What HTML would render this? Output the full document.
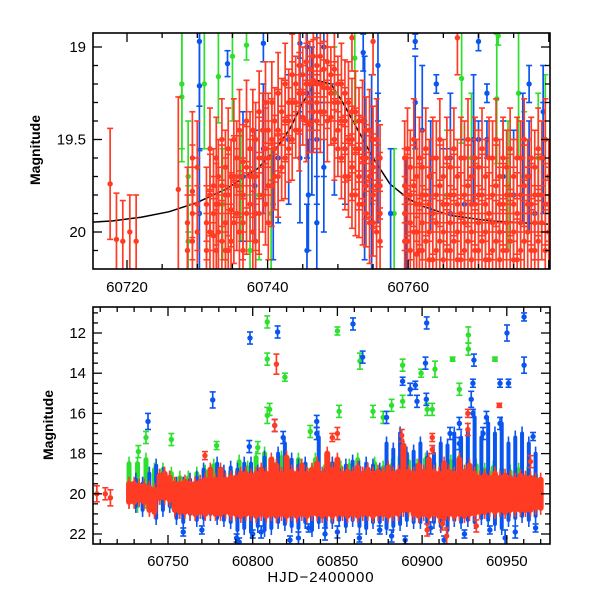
<!DOCTYPE html>
<html><head><meta charset="utf-8">
<style>
html,body{margin:0;padding:0;background:#fff;}
svg{display:block;font-family:"Liberation Sans",sans-serif;}
</style></head>
<body>
<svg id="chart" width="600" height="600" viewBox="0 0 600 600">
<defs>
<clipPath id="clipTop"><rect x="93" y="33" width="457" height="236"/></clipPath>
<clipPath id="clipBot"><rect x="93" y="307" width="457" height="237"/></clipPath>
</defs>
<g id="topMarks" clip-path="url(#clipTop)"></g>
<g id="botMarks" clip-path="url(#clipBot)"></g>
<g id="axes"></g>
<text x="40" y="150" transform="rotate(-90 40 150)" text-anchor="middle" font-size="14" font-weight="bold">Magnitude</text>
<text x="53" y="425" transform="rotate(-90 53 425)" text-anchor="middle" font-size="14" font-weight="bold">Magnitude</text>
<text x="321" y="582" text-anchor="middle" font-size="15" letter-spacing="1">HJD−2400000</text>
</svg>
<script>
// ---------- TOP PANEL DATA ----------
const tRedX=[60717.6,60718.5,60719.4,60720.4,60721.3,60727.3,60728.6,60729.3,60730.0,60731.3,60732.3,60733.0,60734.0,60734.8,60735.6,60736.5,60737.5,60738.3,60739.3,60740.1,60741.0,60742.0,60743.0,60744.0,60745.0,60746.0,60747.0,60748.0,60749.0,60750.0,60751.0,60752.0,60753.0,60754.0,60755.0,60756.0,60759.5,60760.3,60761.2,60762.0,60763.0,60764.0,60765.0,60766.0,60767.0,60768.0,60769.0,60770.0,60771.0,60772.0,60773.0,60774.0,60775.0,60776.0,60777.0,60778.0,60779.0,60780.0];
const tRedMags=[[19.74],[20.04],[20.05],[20.0],[20.05],[19.77],[19.95,20.1],[19.6,19.78,19.9,20.05],[19.65,19.85,20.0],[19.85,19.95,20.1],[19.75,19.9,20.02],[19.7,19.85,20.0],[19.65,19.8,19.95,20.1],[19.7,19.88,20.05],[19.6,19.75,19.9],[19.62,19.8,19.95,20.1],[19.55,19.7,19.85],[19.5,19.7,19.9,20.05],[19.45,19.6,19.8],[19.45,19.6,19.75,19.95],[19.4,19.55,19.7],[19.35,19.5,19.65],[19.3,19.4,19.55],[19.2,19.3,19.45],[19.15,19.25,19.38],[19.12,19.2,19.3,19.42],[19.1,19.2,19.3,19.4],[19.12,19.22,19.35],[19.15,19.25,19.38],[19.2,19.3,19.45,19.55],[19.25,19.4,19.55,19.7],[19.35,19.5,19.65,19.8,18.95],[19.4,19.55,19.7,19.85],[19.45,19.6,19.75,19.9],[19.5,19.65,19.8,19.95,18.97],[19.6,19.75,19.9,20.05],[19.6,19.75,19.9,20.05],[19.65,19.8,19.95,20.1],[19.7,19.85,20.0,20.12],[19.65,19.8,19.95,20.1],[19.7,19.85,20.0,20.15],[19.6,19.8,19.95,20.1],[19.7,19.85,20.0,20.15],[19.65,19.8,19.95,20.1],[19.7,19.85,20.0,20.15,18.95],[19.6,19.8,19.95,20.1],[19.7,19.85,20.0,20.15],[19.65,19.8,19.95,20.1],[19.7,19.85,20.0,20.15],[19.6,19.8,19.95,20.1],[19.7,19.85,20.0,20.15],[19.65,19.8,19.95,20.1],[19.7,19.85,20.0,20.15],[19.6,19.8,19.95,20.1],[19.7,19.85,20.0],[19.65,19.8,19.95,20.1],[19.6,19.8,19.95],[19.7,19.85,20.0]];
const tRedErr=[0.3,0.25,0.22,0.2,0.25,0.5,0.3,0.25,0.25,0.2,0.2,0.2,0.2,0.2,0.2,0.2,0.2,0.2,0.2,0.2,0.18,0.18,0.18,0.15,0.15,0.15,0.15,0.15,0.15,0.15,0.18,0.18,0.18,0.18,0.18,0.18,0.2,0.2,0.2,0.2,0.2,0.2,0.2,0.2,0.2,0.2,0.2,0.2,0.2,0.2,0.2,0.2,0.2,0.2,0.2,0.2,0.2,0.2];
const tRed2X=[60731.8,60732.7,60733.5,60734.4,60735.2,60736.0,60737.0,60737.9,60738.8,60739.7,60740.6,60741.5,60742.5,60743.5,60744.5,60745.5,60746.5,60747.5,60748.5,60749.5,60750.5,60751.5,60752.5,60753.5,60754.5,60755.5,60759.9,60760.8,60761.6,60762.5,60763.5,60764.5,60765.5,60766.5,60767.5,60768.5,60769.5,60770.5,60771.5,60772.5,60773.5,60774.5,60775.5,60776.5,60777.5,60778.5,60779.5,60780.5,60781.3];
const tRed2Mags=[[19.55,19.8,20.0],[19.6,19.85,20.1],[19.5,19.75,20.05],[19.55,19.8,20.1],[19.5,19.7,19.95],[19.45,19.7,20.0],[19.4,19.65,19.9],[19.45,19.7,20.0],[19.35,19.6,19.9],[19.3,19.55,19.85],[19.3,19.5,19.75],[19.25,19.45,19.7],[19.2,19.4,19.6],[19.15,19.3,19.5],[19.1,19.25,19.45],[19.08,19.2,19.4],[19.05,19.18,19.35],[19.05,19.2,19.35],[19.08,19.22,19.4],[19.12,19.3,19.5],[19.2,19.4,19.6],[19.3,19.5,19.7],[19.35,19.55,19.8],[19.4,19.6,19.85],[19.45,19.7,19.95],[19.5,19.75,20.0],[19.55,19.8,20.05],[19.5,19.75,20.0],[19.6,19.85,20.1],[19.55,19.8,20.05],[19.6,19.9,20.15],[19.5,19.75,20.05],[19.6,19.85,20.1],[19.55,19.8,20.05],[19.6,19.9,20.15],[19.5,19.75,20.05],[19.6,19.85,20.1],[19.55,19.8,20.05],[19.6,19.9,20.15],[19.5,19.75,20.05],[19.6,19.85,20.1],[19.55,19.8,20.05],[19.6,19.9,20.15],[19.5,19.75,20.05],[19.6,19.85,20.1],[19.55,19.8,20.05],[19.5,19.85,20.1],[19.55,19.8,20.05],[19.6,19.85,20.1]];
const tRed2Err=0.22;
const tBlueX=[60730.3,60730.3,60730.3,60734.3,60736.5,60738.2,60739.4,60739.4,60740.8,60741.5,60743.0,60744.6,60744.6,60744.6,60745.6,60745.6,60745.6,60745.8,60746.3,60747.0,60747.0,60747.0,60748.0,60748.0,60748.0,60749.5,60751.0,60753.6,60753.8,60753.8,60754.8,60754.8,60755.7,60755.7,60757.5,60759.7,60761.0,60761.0,60762.0,60762.0,60763.2,60764.0,60765.0,60766.0,60766.0,60768.0,60769.3,60770.0,60770.0,60771.2,60771.2,60773.5,60775.0,60776.3,60777.2,60777.2,60778.0,60779.2,60779.2,60780.5];
const tBlueMag=[18.97,19.21,19.9,19.09,19.7,19.75,18.98,19.55,19.85,19.6,19.5,18.98,19.1,19.6,19.0,19.25,20.1,19.8,19.4,19.2,19.5,19.95,19.0,19.35,19.65,19.5,19.55,19.03,19.4,19.8,19.5,19.95,19.1,19.6,19.9,19.95,18.97,19.3,19.45,19.8,19.7,19.2,19.85,19.6,19.9,19.85,19.5,18.97,19.5,19.25,19.5,19.7,19.8,19.6,19.2,19.7,19.9,19.35,19.6,19.45];
const tBlueErr=[0.35,0.35,0.35,0.07,0.35,0.3,0.1,0.35,0.3,0.35,0.35,0.08,0.25,0.35,0.2,0.35,0.25,0.3,0.4,0.35,0.35,0.25,0.3,0.35,0.35,0.3,0.3,0.1,0.35,0.35,0.35,0.35,0.3,0.35,0.35,0.35,0.04,0.25,0.35,0.35,0.3,0.05,0.3,0.35,0.35,0.35,0.35,0.05,0.1,0.05,0.1,0.3,0.35,0.35,0.1,0.3,0.25,0.25,0.3,0.35];
const tGreenX=[60727.8,60727.8,60728.7,60728.7,60731.0,60733.0,60733.6,60734.0,60735.0,60736.2,60737.0,60737.5,60738.8,60740.5,60749.5,60752.4,60758.0,60765.5,60767.6,60769.0,60772.6,60772.8,60774.2,60775.7,60776.5,60778.5,60779.5];
const tGreenMag=[19.2,19.27,19.7,20.05,19.2,19.16,19.85,20.1,19.05,19.75,18.99,20.1,19.8,19.9,19.25,19.06,19.9,19.8,19.17,19.6,19.28,18.94,19.75,19.25,19.7,19.6,19.5];
const tGreenErr=[0.35,0.35,0.3,0.3,0.35,0.25,0.3,0.3,0.35,0.3,0.08,0.3,0.35,0.35,0.25,0.35,0.35,0.35,0.35,0.35,0.35,0.05,0.35,0.35,0.35,0.35,0.35];
const modelX=[60714,60718,60722,60726,60730,60734,60738.5,60741,60743.2,60745,60747,60749,60750.7,60753,60755,60757.4,60760,60762,60766,60771.6,60776,60781];
const modelMag=[19.95,19.94,19.92,19.89,19.84,19.77,19.66,19.56,19.44,19.3,19.18,19.2,19.3,19.46,19.6,19.74,19.82,19.86,19.91,19.94,19.95,19.96];

// ---------- BOTTOM PANEL DATA ----------
const bRedX=[60727,60730,60733,60736,60739,60742,60745,60748,60751,60754,60757,60760,60763,60766,60769,60772,60775,60778,60781,60784,60787,60790,60793,60796,60799,60802,60805,60808,60811,60814,60817,60820,60823,60826,60829,60832,60835,60838,60841,60844,60847,60850,60853,60856,60859,60862,60865,60868,60871,60874,60877,60880,60883,60886,60889,60892,60895,60898,60901,60904,60907,60910,60913,60916,60919,60922,60925,60928,60931,60934,60937,60940,60943,60946,60949,60952,60955,60958,60961,60964,60967,60970];
const bRedHi=[19.5,19.5,19.6,19.6,19.7,19.8,19.1,19.0,19.2,19.5,19.5,19.4,19.5,19.5,19.4,19.3,18.8,19.3,18.8,19.3,19.2,19.2,19.0,19.0,19.1,19.0,18.8,19.0,18.3,18.6,19.0,18.2,18.9,19.0,18.6,19.0,18.8,18.5,19.0,18.0,18.8,18.3,19.0,18.9,19.0,18.7,19.0,18.8,19.0,18.9,19.0,18.7,19.0,18.9,17.6,18.9,19.0,18.6,18.9,18.3,18.9,19.0,18.5,18.9,19.0,18.3,18.9,18.6,19.0,19.2,19.1,19.2,19.0,19.2,19.1,19.2,19.3,19.1,19.2,19.2,19.3,19.3];
const bRedLo=[20.4,20.4,20.3,20.4,20.8,20.9,20.2,20.2,20.3,20.8,20.9,20.9,20.9,21.0,20.9,21.0,20.9,21.0,21.0,20.9,21.0,21.0,21.1,21.0,21.0,21.1,21.0,21.1,21.0,21.1,21.0,21.1,21.0,21.1,21.0,21.1,21.0,21.0,21.1,21.0,21.1,21.0,21.0,21.1,21.0,21.1,21.0,21.0,21.1,21.0,21.0,21.1,21.0,21.0,20.8,20.8,21.0,21.1,21.0,21.1,21.0,21.1,21.2,21.0,21.1,21.0,21.1,21.0,21.0,20.9,20.9,20.8,20.9,20.8,20.9,20.8,20.8,20.8,20.8,20.8,20.7,20.7];
const bBlueX=[60731,60735,60739,60743,60747,60751,60755,60759,60763,60767,60771,60775,60779,60783,60787,60791,60795,60799,60803,60807,60811,60815,60819,60823,60827,60831,60835,60839,60843,60847,60851,60855,60859,60863,60867,60871,60875,60879,60883,60887,60891,60895,60899,60903,60907,60911,60915,60919,60923,60927,60931,60935,60939,60943,60947,60951,60955,60959,60963,60967];
const bBlueHi=[19.3,19.5,19.0,18.6,19.0,19.2,19.5,19.5,19.3,19.2,18.8,18.9,18.5,18.9,18.7,18.8,18.5,18.5,18.9,18.2,18.5,18.0,17.5,18.3,18.6,18.5,18.9,17.2,18.8,18.5,18.8,18.6,18.4,18.7,18.5,18.6,18.8,17.5,17.8,17.0,18.0,17.9,17.5,18.2,18.0,17.5,17.6,17.0,17.2,16.8,16.2,17.2,16.5,17.0,16.5,17.5,17.2,17.0,17.5,18.0];
const bBlueLo=[20.6,20.8,20.7,21.2,20.8,20.6,21.2,21.4,21.0,21.3,21.2,21.0,21.2,21.3,21.4,21.8,21.7,21.9,21.6,21.8,21.7,21.4,21.5,21.6,21.7,21.4,21.8,21.4,21.6,21.4,21.3,21.6,21.3,21.6,21.7,21.4,21.4,21.7,21.6,21.5,21.3,21.4,21.4,21.5,21.4,21.6,21.8,21.3,21.4,21.3,21.4,21.2,21.3,21.5,21.7,21.3,21.2,21.1,21.3,21.1];
const bGreenX=[60727,60732,60737,60742,60747,60752,60757,60762,60767,60772,60777,60782,60787,60792,60797,60802,60807,60812,60817,60822,60827,60832,60837,60842,60847,60852,60857,60862,60867,60872,60877,60882,60887,60892,60897,60902,60907,60912,60917,60922,60927,60932,60937,60942,60947,60952,60957,60962,60967];
const bGreenHi=[18.5,18.5,18.3,18.8,18.8,19.0,19.2,19.2,19.0,18.9,18.6,19.0,18.9,18.4,18.7,18.2,18.0,18.5,18.2,18.6,18.3,18.8,18.3,18.9,18.5,18.7,18.6,18.3,18.8,18.5,18.7,18.6,18.2,18.4,18.6,18.3,18.5,18.7,18.4,18.2,18.5,18.6,18.8,18.7,18.8,18.9,18.8,19.0,19.1];
const bGreenLo=[20.4,20.6,20.4,20.6,20.5,20.4,20.5,20.4,20.5,20.5,20.5,20.6,20.5,20.5,20.5,20.5,20.6,20.5,20.5,20.5,20.5,20.5,20.5,20.5,20.5,20.5,20.5,20.5,20.5,20.5,20.5,20.5,20.5,20.5,20.5,20.5,20.5,20.5,20.5,20.5,20.5,20.5,20.5,20.5,20.5,20.5,20.5,20.5,20.5];
const oRedX=[60708,60713,60716,60814,60813,60771.8,60847,60850,60888,60945.6,60927,60927,60906,60906,60964,60914.5,60903,60932,60912];
const oRedMag=[20.0,20.0,20.2,13.55,16.6,18.1,17.2,17.0,17.1,15.6,16.0,16.8,17.2,17.8,18.4,22.1,21.8,21.6,21.5];
const oRedErr=[0.4,0.3,0.4,0.5,0.3,0.2,0.2,0.3,0.3,0.1,0.2,0.3,0.2,0.2,0.3,0.4,0.3,0.3,0.3];
const oBlueX=[60798.4,60814.7,60776.4,60738.2,60859.2,60864.9,60902.7,60950.1,60960.2,60960.2,60902,60888.5,60893,60896,60897,60902.5,60930.6,60930,60930,60929,60946,60946,60951,60938,60798,60813,60818,60837.8,60837.8,60879,60916.5,60922,60922,60936,60965.5,60759,60842.7,60913,60882,60949,60790.5,60792,60827,60770,60800,60805,60822,60833,60850,60863,60875,60890,60905,60925,60940,60955,60967];
const oBlueMag=[12.25,11.95,15.33,16.4,11.55,13.2,11.5,12.0,11.2,13.6,13.5,14.4,14.8,14.6,15.4,15.3,13.35,14.5,16.0,15.3,14.5,16.5,14.5,16.2,17.65,16.6,17.2,16.4,17.0,16.2,17.0,16.5,17.5,17.0,17.15,21.9,22.0,22.3,22.1,22.2,22.2,22.4,22.2,21.8,22.0,21.9,22.3,21.7,21.9,22.2,21.8,22.3,21.7,22.0,21.8,21.9,21.7];
const oBlueErr=[0.3,0.3,0.4,0.4,0.3,0.3,0.3,0.4,0.2,0.4,0.3,0.2,0.3,0.2,0.3,0.3,0.3,0.2,0.2,0.4,0.2,0.3,0.2,0.3,0.3,0.3,0.3,0.3,0.3,0.3,0.3,0.3,0.3,0.3,0.2,0.2,0.3,0.2,0.3,0.4,0.2,0.2,0.3,0.2,0.2,0.3,0.2,0.2,0.3,0.2,0.2,0.2,0.3,0.2,0.2,0.3,0.2];
const oGreenX=[60808.6,60808.6,60819,60850,60863.3,60888.5,60899.4,60907.6,60918,60927.3,60927.3,60943,60922,60888.5,60882,60808.6,60810,60752,60732.5,60851,60871,60877,60903,60906,60834,60803,60778.7,60737];
const oGreenMag=[11.45,13.3,14.2,11.9,13.4,13.6,14.0,13.8,13.3,12.1,12.8,13.3,14.8,15.4,15.6,16.1,15.8,17.3,17.9,15.9,15.9,16.2,15.8,15.8,16.9,17.7,17.6,17.2];
const oGreenErr=[0.3,0.3,0.2,0.2,0.4,0.3,0.2,0.4,0.1,0.4,0.3,0.1,0.3,0.3,0.3,0.4,0.3,0.3,0.3,0.3,0.3,0.3,0.3,0.3,0.3,0.3,0.2,0.3];

// ---------- SCALES ----------
const NS='http://www.w3.org/2000/svg';
const tx=d=>127+(d-60720)*7.03;
const ty=m=>47+(m-19)*185;
const bx=d=>168+(d-60750)*1.694;
const by=m=>333+(m-12)*20.1;
const COL={red:'#ff3b24',blue:'#0a55f0',green:'#2ee02e'};
function mk(tag,attrs,parent){const e=document.createElementNS(NS,tag);for(const k in attrs)e.setAttribute(k,attrs[k]);parent.appendChild(e);return e;}
function errPoint(g,X,Y,d,m,e,c,cap,name){
  const grp=mk('g',{},g);
  
  
  const x=X(d),y1=Y(m-e),y2=Y(m+e),y=Y(m);
  mk('line',{x1:x,x2:x,y1:y1,y2:y2,stroke:c,'stroke-width':1.7},grp);
  mk('line',{x1:x-cap,x2:x+cap,y1:y1,y2:y1,stroke:c,'stroke-width':1.6},grp);
  mk('line',{x1:x-cap,x2:x+cap,y1:y2,y2:y2,stroke:c,'stroke-width':1.6},grp);
  mk('circle',{cx:x,cy:y,r:2.7,fill:c},grp);
}
function rangeBar(g,X,Y,d,hi,lo,c,w,name){
  const grp=mk('g',{},g);
  
  
  const x=X(d);
  mk('line',{x1:x,x2:x,y1:Y(hi-0.35),y2:Y(lo+0.35),stroke:c,'stroke-width':1.6},grp);
  mk('line',{x1:x,x2:x,y1:Y(hi),y2:Y(lo),stroke:c,'stroke-width':w,'stroke-linecap':'round'},grp);
}
// ---------- TOP PANEL ----------
const tg=document.getElementById('topMarks');
const mp=modelX.map((d,i)=>tx(d).toFixed(1)+','+ty(modelMag[i]).toFixed(1)).join(' ');
const ml=mk('polyline',{points:mp,fill:'none',stroke:'#000','stroke-width':1.5},tg);


tGreenX.forEach((d,i)=>errPoint(tg,tx,ty,d,tGreenMag[i],tGreenErr[i],COL.green,3,'green-point'));
tBlueX.forEach((d,i)=>errPoint(tg,tx,ty,d,tBlueMag[i],tBlueErr[i],COL.blue,3,'blue-point'));
tRedX.forEach((d,i)=>tRedMags[i].forEach(m=>errPoint(tg,tx,ty,d,m,tRedErr[i],COL.red,3,'red-point')));
tRed2X.forEach((d,i)=>tRed2Mags[i].forEach(m=>errPoint(tg,tx,ty,d,m,tRed2Err,COL.red,3,'red-point')));
// ---------- BOTTOM PANEL ----------
const bg=document.getElementById('botMarks');
bGreenX.forEach((d,i)=>rangeBar(bg,bx,by,d,bGreenHi[i],bGreenLo[i],COL.green,5,'green-night'));
oGreenX.forEach((d,i)=>errPoint(bg,bx,by,d,oGreenMag[i],oGreenErr[i],COL.green,3,'green-point'));
bBlueX.forEach((d,i)=>rangeBar(bg,bx,by,d,bBlueHi[i],bBlueLo[i],COL.blue,4,'blue-night'));
oBlueX.forEach((d,i)=>errPoint(bg,bx,by,d,oBlueMag[i],oBlueErr[i],COL.blue,3,'blue-point'));
bRedX.forEach((d,i)=>rangeBar(bg,bx,by,d,bRedHi[i],bRedLo[i],COL.red,6,'red-night'));
oRedX.forEach((d,i)=>errPoint(bg,bx,by,d,oRedMag[i],oRedErr[i],COL.red,3,'red-point'));
// ---------- AXES ----------
const ax=document.getElementById('axes');
function frame(x0,y0,x1,y1,name){const r=mk('rect',{x:x0,y:y0,width:x1-x0,height:y1-y0,fill:'none',stroke:'#000','stroke-width':1.6},ax);}
frame(93,33,550,269,'top-panel-frame');
frame(93,307,550,544,'bottom-panel-frame');
function tick(x1,y1,x2,y2){mk('line',{x1:x1,y1:y1,x2:x2,y2:y2,stroke:'#000','stroke-width':1.3},ax);}
function label(x,y,t,anchor,name){const e=mk('text',{x:x,y:y,'text-anchor':anchor,'font-size':15},ax);e.textContent=t;}
// top x
for(let d=60715;d<=60780;d+=5){const x=tx(d);if(x<93||x>549)continue;const L=(d%20===0)?9:5;tick(x,269,x,269-L);tick(x,33,x,33+L);if(d%20===0&&x<520)label(x,292,String(d),'middle','top-x-tick-label');}
// top y
for(let k=0;k<=12;k++){const m=18.9+k*0.1;const y=ty(m);if(y<33||y>269)continue;const maj=Math.abs(m*2-Math.round(m*2))<1e-6;const L=maj?9:5;tick(93,y,93+L,y);tick(550,y,550-L,y);if(maj)label(86,y+5,(Math.round(m*10)/10).toString(),'end','top-y-tick-label');}
// bottom x
for(let d=60710;d<=60970;d+=10){const x=bx(d);if(x<93||x>550)continue;const L=(d%50===0)?9:5;tick(x,544,x,544-L);tick(x,307,x,307+L);if(d%50===0)label(x,566,String(d),'middle','bottom-x-tick-label');}
// bottom y
for(let m=11;m<=22.5;m+=0.5){const y=by(m);if(y<307||y>544)continue;const maj=(m%2===0);const L=maj?9:5;tick(93,y,93+L,y);tick(550,y,550-L,y);if(maj)label(86,y+5,String(m),'end','bottom-y-tick-label');}
</script>
</body></html>
